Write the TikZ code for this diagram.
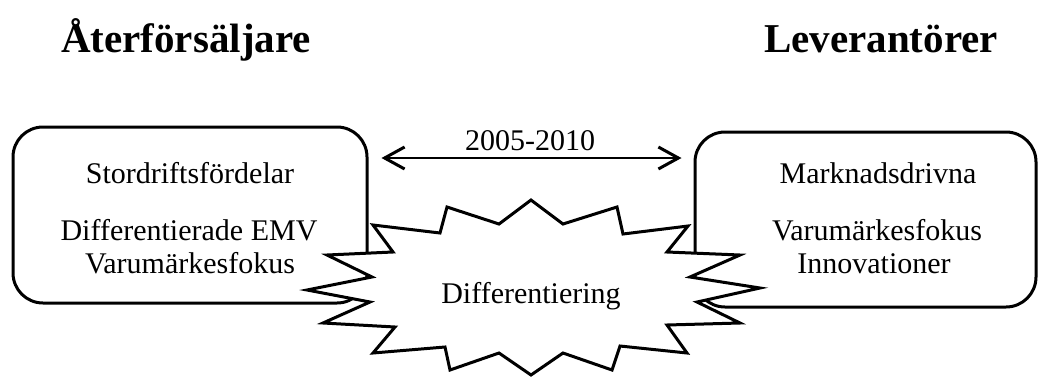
\documentclass[tikz,border=0pt]{standalone}
\usepackage{fontspec}
\setmainfont{Liberation Serif}
\usetikzlibrary{arrows.meta}
\tikzset{
  roundbox/.style={draw, line width=3pt, rounded corners=30pt, inner sep=0pt},
  bodytext/.style={anchor=base, inner sep=0pt, font=\fontsize{30}{36}\selectfont},
  headtext/.style={anchor=base, inner sep=0pt, font=\fontsize{41}{48}\selectfont\bfseries},
  burst/.style={draw, fill=white, line width=3pt, line join=miter, miter limit=10},
  period/.style={line width=2pt, {Straight Barb[length=20pt,width=22pt,line width=3pt]}-{Straight Barb[length=20pt,width=22pt,line width=3pt]}}
}
\begin{document}
\begin{tikzpicture}[x=1pt, y=-1pt]
  \useasboundingbox (0,0) rectangle (1039,376);

  % headings
  \node[headtext] (hleft) at (186,52) {Återförsäljare};
  \node[headtext] (hright) at (881,52) {Leverantörer};

  % the two parties
  \node[roundbox, minimum width=354pt, minimum height=176pt] (lbox) at (190,215) {};
  \node[roundbox, minimum width=341pt, minimum height=175pt] (rbox) at (865.5,219.5) {};

  \node[bodytext] (l1) at (190,183) {Stordriftsfördelar};
  \node[bodytext] (l2) at (189,240) {Differentierade EMV};
  \node[bodytext] (l3) at (190,273) {Varumärkesfokus};

  \node[bodytext] (r1) at (878,183) {Marknadsdrivna};
  \node[bodytext] (r2) at (877,240) {Varumärkesfokus};
  \node[bodytext] (r3) at (874,273) {Innovationer};

  % time span between the boxes
  \coordinate (pa) at ([xshift=13pt]lbox.east |- 0,158);
  \coordinate (pb) at ([xshift=-12pt]rbox.west |- 0,158);
  \draw[period] (pa) -- (pb);
  \node[bodytext] (years) at (530,150) {2005-2010};

  % burst in the middle, drawn over the boxes
  \draw[burst] (531,200) -- (563,224) -- (617,207) -- (623,234) -- (688,226)
    -- (667,252) -- (740,255) -- (690,277) -- (760,288) -- (697,302)
    -- (740,323) -- (667,325) -- (687,353) -- (620,346) -- (612,370)
    -- (563,353) -- (531,375) -- (499,353) -- (450,370) -- (445,347)
    -- (373,353) -- (395,327) -- (323,323) -- (370,302) -- (307,290)
    -- (372,277) -- (327,255) -- (393,252) -- (373,225) -- (440,233)
    -- (447,207) -- (499,224) -- cycle;
  \node[bodytext] (diff) at (531,303) {Differentiering};
\end{tikzpicture}
\end{document}
